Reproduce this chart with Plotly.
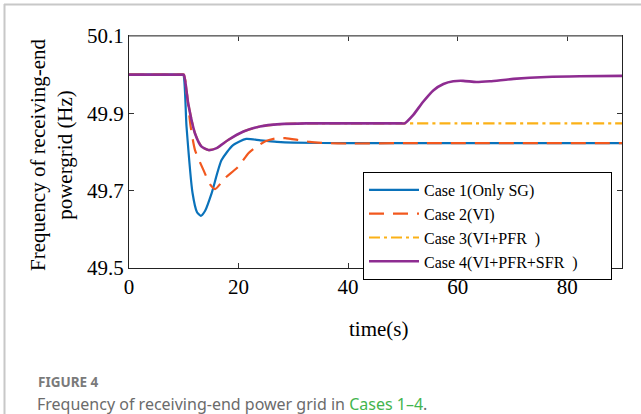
import plotly.graph_objects as go

# ---- data ----
t_case1 = [0, 5, 9.5, 9.9, 10.5, 11.6, 12.4, 13.1, 13.9, 15.1, 16.9, 19.0, 21.4, 24, 27, 30, 40, 50, 60, 70, 80, 90]
f_case1 = [50.0, 50.0, 50.0, 50.0, 49.866, 49.694, 49.645, 49.635, 49.648, 49.694, 49.779, 49.818, 49.834,
           49.830, 49.826, 49.824, 49.823, 49.823, 49.823, 49.823, 49.823, 49.823]

t_case2 = [0, 5, 9.6, 10, 11.25, 12.05, 13.6, 14.8, 15.7, 17.5, 19.95, 21.8, 22.9, 24.8, 26.7, 28.5, 30.9, 33, 36, 40, 50, 90]
f_case2 = [50.0, 50.0, 50.0, 50.0, 49.866, 49.805, 49.753, 49.716, 49.704, 49.732, 49.762, 49.797, 49.810,
           49.827, 49.835, 49.836, 49.831, 49.826, 49.823, 49.822, 49.823, 49.823]

t_common = [0, 5, 9.6, 10, 10.8, 12.05, 13.25, 14.5, 16, 18.1, 20.9, 23.9, 27.6, 32.4, 40, 49.8, 50.3]
f_common = [50.0, 50.0, 50.0, 50.0, 49.926, 49.848, 49.814, 49.805, 49.810, 49.831, 49.853, 49.866, 49.872,
            49.874, 49.874, 49.874, 49.874]

t_case3_tail = [60, 70, 80, 90]
f_case3_tail = [49.874, 49.874, 49.874, 49.874]

t_case4_tail = [51.9, 53.7, 55.6, 57.4, 59.2, 61.0, 63.4, 65.9, 70.2, 76.2, 82.3, 90]
f_case4_tail = [49.896, 49.930, 49.960, 49.976, 49.983, 49.984, 49.981, 49.983, 49.989, 49.994, 49.996, 49.997]

NB = "\u00a0"
PAD = NB * 6 + "<span style='color:rgba(0,0,0,0)'>.</span>"
names = ["Case 1(Only SG)", "Case 2(VI)", "Case 3(VI+PFR" + NB * 2 + ")",
         "Case 4(VI+PFR+SFR" + NB * 2 + ")" + PAD]
colors = ["#0A72BA", "#F2581E", "#FBB117", "#8E2C91"]
dashes = ["solid", "15px,9px", "11px,4px,3px,4px", "solid"]
widths = [2.2, 2.2, 2.2, 2.6]

x_ticks = [0, 20, 40, 60, 80]
y_ticks = [49.5, 49.7, 49.9, 50.1]

series = [
    (t_case1, f_case1),
    (t_case2, f_case2),
    (t_common + t_case3_tail, f_common + f_case3_tail),
    (t_common + t_case4_tail, f_common + f_case4_tail),
]

SERIF = "Liberation Serif"

fig = go.Figure()
for (tx, fy), nm, c, d, w in zip(series, names, colors, dashes, widths):
    fig.add_trace(go.Scatter(x=tx, y=fy, mode="lines", name=nm,
                             line=dict(color=c, dash=d, width=w, shape="spline", smoothing=0.6)))

W, H = 641, 414
L, R, T, B = 129, 19, 36, 146
pw, ph = W - L - R, H - T - B

def px(xp):
    return (xp - L) / pw

def py(yp):
    return (H - B - yp) / ph

fig.update_layout(
    width=W, height=H,
    margin=dict(l=L, r=R, t=T, b=B),
    paper_bgcolor="white", plot_bgcolor="white",
    font=dict(family=SERIF, size=21, color="black"),
    showlegend=True,
    legend=dict(x=px(363), y=py(172), xanchor="left", yanchor="top",
                bgcolor="white", bordercolor="black", borderwidth=1,
                font=dict(family=SERIF, size=16, color="black"),
                tracegroupgap=0, itemwidth=50),
    xaxis=dict(range=[0, 90], tickvals=x_ticks, ticks="inside", ticklen=5, tickcolor="#333",
               showline=True, linecolor="#222", linewidth=1, mirror="ticks",
               showgrid=False, zeroline=False, tickfont=dict(family=SERIF, size=21)),
    yaxis=dict(range=[49.5, 50.1], tickvals=y_ticks, ticktext=[f"{v:.1f}" for v in y_ticks],
               ticks="inside", ticklen=5, tickcolor="#333",
               showline=True, linecolor="#222", linewidth=1, mirror="ticks",
               showgrid=False, zeroline=False, tickfont=dict(family=SERIF, size=21)),
    annotations=[
        dict(text="Frequency of receiving-end<br>powergrid (Hz)", xref="paper", yref="paper",
             x=px(51), y=py(155), xanchor="center", yanchor="middle", textangle=-90,
             showarrow=False, font=dict(family=SERIF, size=21, color="black")),
        dict(text="time(s)", xref="paper", yref="paper", x=px(378), y=py(329),
             xanchor="center", yanchor="middle", showarrow=False,
             font=dict(family=SERIF, size=21, color="black")),
        dict(text="<b>FIGURE 4</b>", xref="paper", yref="paper", x=px(36), y=py(382),
             xanchor="left", yanchor="middle", showarrow=False,
             font=dict(family="Noto Sans", size=13.5, color="#7a7a7a")),
        dict(text="Frequency of receiving-end power grid in <span style='color:#43B54E'>Cases 1–4</span>.",
             xref="paper", yref="paper", x=px(35), y=py(404),
             xanchor="left", yanchor="middle", showarrow=False,
             font=dict(family="Noto Sans", size=16, color="#6b6b6b")),
    ],
    shapes=[
        dict(type="line", xref="paper", yref="paper", x0=px(4), x1=px(641), y0=py(4.5), y1=py(4.5),
             line=dict(color="#c8c8c8", width=2)),
        dict(type="line", xref="paper", yref="paper", x0=px(4.5), x1=px(4.5), y0=py(4), y1=py(414),
             line=dict(color="#c8c8c8", width=2)),
        dict(type="line", xref="paper", yref="paper", x0=0, x1=1, y0=1, y1=1,
             line=dict(color="#8a8a8a", width=1.5)),
    ],
)

fig.write_html("out.html", config={"displayModeBar": False},
               post_script="document.body.style.margin='0px';document.body.style.overflow='hidden';")
